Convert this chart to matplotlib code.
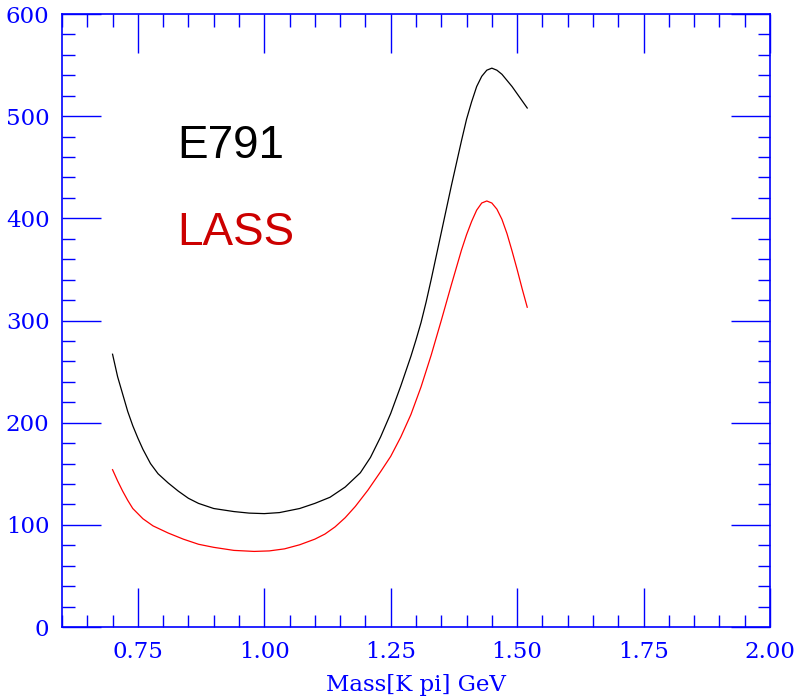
import numpy as np
import matplotlib.pyplot as plt
from matplotlib.ticker import MultipleLocator

# E791 curve
mass_e791 = [0.70, 0.71, 0.72, 0.73, 0.74, 0.75, 0.76, 0.775, 0.79, 0.81, 0.83, 0.85,
             0.87, 0.90, 0.94, 0.97, 1.00, 1.03, 1.05, 1.07, 1.10, 1.13, 1.16, 1.19,
             1.21, 1.23, 1.25, 1.27, 1.29, 1.30, 1.31, 1.32, 1.33, 1.34, 1.35, 1.36,
             1.37, 1.38, 1.39, 1.40, 1.41, 1.42, 1.43, 1.44, 1.45, 1.46, 1.47, 1.48,
             1.49, 1.50, 1.51, 1.52]
amp_e791 = [267, 245, 228, 211, 197, 185, 174, 160, 150, 141, 133, 126,
            121, 116, 113, 111.5, 111, 112, 114, 116, 121, 127, 137, 151,
            166, 186, 209, 236, 265, 281, 298, 318, 340, 363, 386, 409,
            432, 454, 476, 497, 514, 529, 539, 545, 547, 545, 541, 535,
            529, 522, 515, 508]

# LASS curve
mass_lass = [0.70, 0.71, 0.72, 0.73, 0.74, 0.76, 0.78, 0.81, 0.84, 0.87, 0.90, 0.94,
             0.98, 1.01, 1.04, 1.07, 1.10, 1.12, 1.14, 1.16, 1.18, 1.205, 1.23, 1.25,
             1.27, 1.29, 1.31, 1.33, 1.35, 1.37, 1.39, 1.40, 1.41, 1.42, 1.43, 1.44,
             1.45, 1.46, 1.47, 1.48, 1.49, 1.50, 1.51, 1.52]
amp_lass = [154, 143, 133, 124, 116, 106, 99, 92, 86, 81, 78, 75,
            74, 74.5, 76.5, 80.5, 86, 91, 98, 107, 118, 134, 152, 167,
            186, 208, 235, 266, 300, 335, 369, 384, 397, 408, 415, 417,
            415, 409, 399, 385, 368, 350, 331, 313]

blue = '#0000ff'

fig = plt.figure(figsize=(8.06, 6.97), dpi=100)
ax = fig.add_axes([0.0769, 0.1004, 0.8784, 0.8795])

ax.plot(mass_e791, amp_e791, color='black', lw=0.9)
ax.plot(mass_lass, amp_lass, color='#ff0000', lw=0.9)

ax.text(0.828, 471, 'E791', color='black', fontsize=33, family='Liberation Sans', va='center')
ax.text(0.828, 386, 'LASS', color='#cc0000', fontsize=33, family='Liberation Sans', va='center')

ax.set_xlim(0.6, 2.0)
ax.set_ylim(0, 600)
ax.xaxis.set_major_locator(MultipleLocator(0.25))
ax.xaxis.set_minor_locator(MultipleLocator(0.05))
ax.yaxis.set_major_locator(MultipleLocator(100))
ax.yaxis.set_minor_locator(MultipleLocator(20))
ax.xaxis.set_major_formatter(plt.FuncFormatter(lambda v, p: '' if v < 0.7 else f'{v:.2f}'))

ax.tick_params(which='both', direction='in', top=True, right=True, color=blue,
               labelcolor=blue, labelsize=16.5, width=1.0)
ax.tick_params(which='major', length=28)
ax.tick_params(which='minor', length=9)
ax.tick_params(axis='x', pad=10)
ax.tick_params(axis='y', pad=9)
for lab in ax.get_xticklabels() + ax.get_yticklabels():
    lab.set_family('DejaVu Serif')
for s in ax.spines.values():
    s.set_color(blue)
    s.set_linewidth(1.2)

ax.set_xlabel('Mass[K pi] GeV', color=blue, fontsize=16.5, family='DejaVu Serif', labelpad=8)

fig.savefig('out.png', dpi=100)
